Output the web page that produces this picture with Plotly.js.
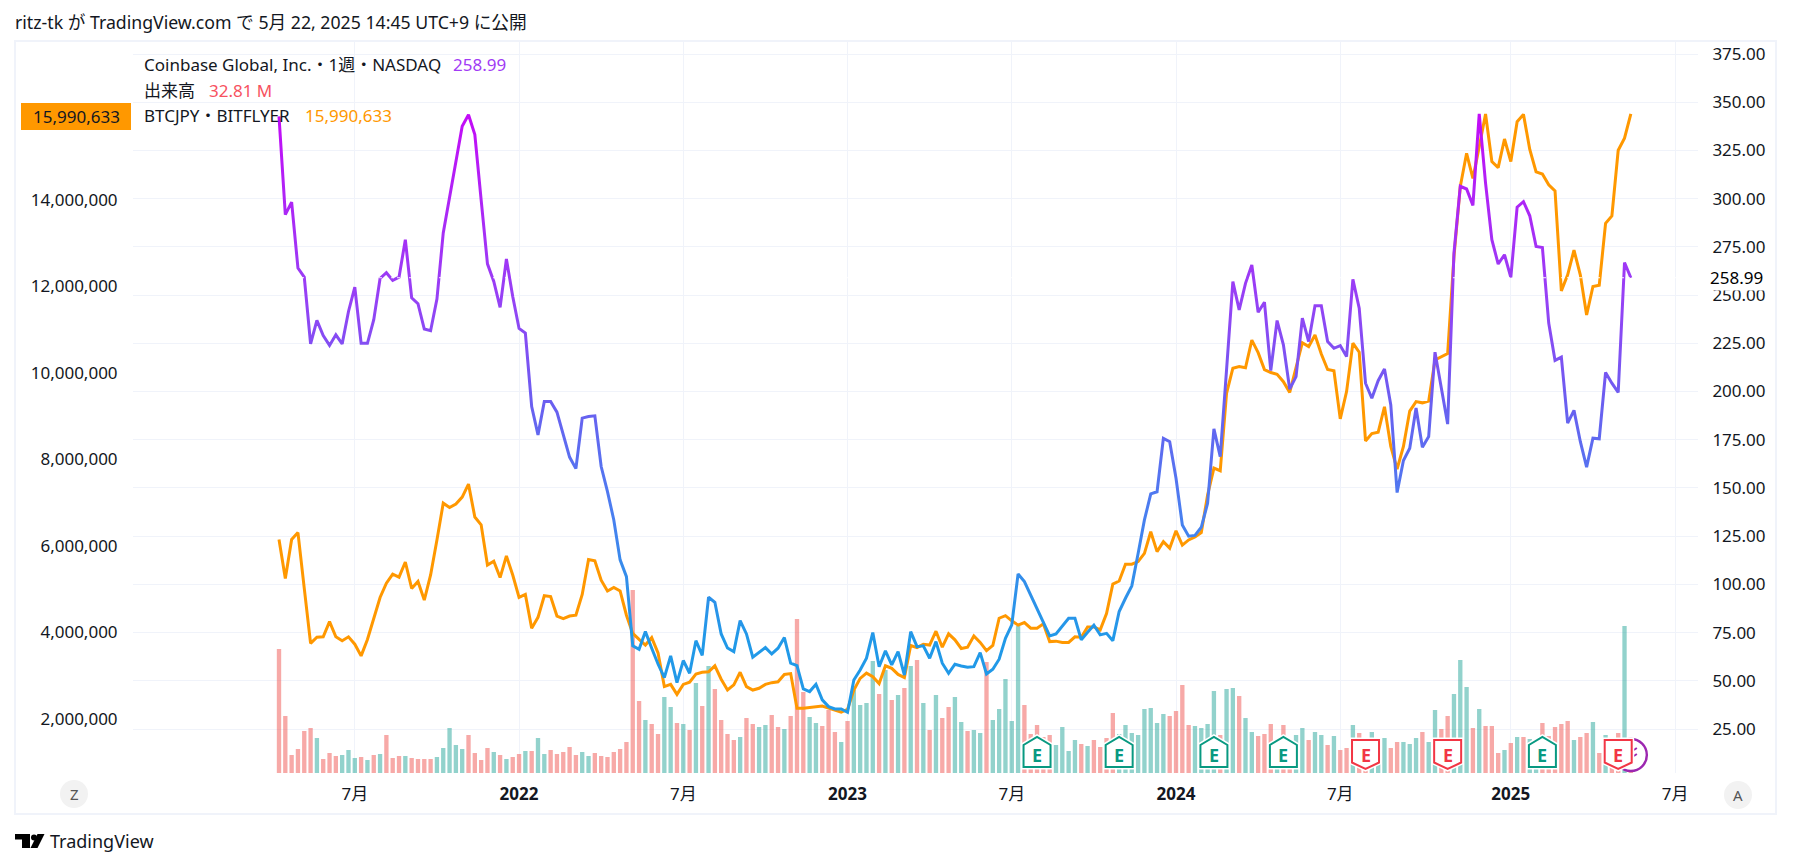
<!DOCTYPE html>
<html><head><meta charset="utf-8">
<script src="https://cdn.plot.ly/plotly-3.0.1.min.js"></script>
<style>html,body{margin:0;padding:0;background:#fff}#chart{width:1793px;height:868px}</style>
</head><body><div id="chart"></div>
<script>
// ---- data (weekly bars, first bar = week of 2021-04-12) ----
const coinClose = [342.7,291.7,298.2,264,259.3,224.7,236.9,229,223.9,229.4,
224.7,241.5,254.1,225,225,237.2,258.6,261.6,257.6,259.3,
278.7,248.6,245.5,232.4,231.5,247.9,282.2,301.2,318.5,337.5,
343.5,333.2,299.4,266.2,257.1,243.6,268.7,249.3,232.7,230.3,
192.2,177.5,194.8,194.8,189.3,177.5,166,160,186.2,187,
187.4,161.1,148.1,133.4,112.7,104,68.1,66.3,75.5,66.9,
58.7,51.6,62.9,49,60.5,53.9,70.8,63.2,93.3,90.7,
74.3,67,65.1,81.2,74.3,62.2,64.6,67.2,63.9,66.9,
72.4,59.1,57.9,45.8,44.4,48.2,40.1,36.6,35.4,35.4,
33.7,50.4,55.6,61.7,75,57.3,65.5,58.2,65.1,53,
75.5,67.7,68.1,61.7,70.3,59.1,53.9,58.6,57.7,57,
57.3,64.6,53.5,56,61.2,72,79,105.4,101.4,94.5,
86.7,79.8,73.3,74.3,78.1,82.4,82.4,71.2,75.2,78.8,
73.8,74.6,70.8,85.9,92.8,99.2,116,133.4,146.9,148,
175.7,174,155,130.8,125,125.4,129.6,142,180.6,166.2,
211.2,257,242.3,256.1,265.6,241.1,246.3,210.8,236.8,224.2,
201.2,207.7,238,225.9,244.5,244.5,225.9,222.4,223.8,218.1,
258.2,243.2,204.3,196.5,205.6,211.7,193,147.6,164.2,170.6,
191.4,171.1,176.7,220.4,201.8,183.1,271.8,306.4,305,296.5,
344,308.1,278.7,266.1,270.9,259.2,295.6,298.4,291.1,275.2,
274.7,235.5,216.1,217.8,183.6,190.2,174.1,160.8,175.8,175.5,
209.9,204.3,199.5,266.9,258.99];

const btcJpyMillions = [6.15,5.25,6.15,6.31,5.02,3.75,3.89,3.90,4.25,3.90,
3.81,3.90,3.73,3.46,3.84,4.33,4.81,5.14,5.35,5.28,
5.63,5.02,5.18,4.75,5.33,6.14,6.99,6.89,6.97,7.13,
7.43,6.67,6.49,5.56,5.65,5.27,5.77,5.33,4.81,4.88,
4.10,4.35,4.85,4.83,4.38,4.32,4.38,4.40,4.88,5.69,
5.66,5.21,4.96,5.04,4.96,4.40,3.98,3.84,3.71,3.88,
3.53,2.75,2.80,2.57,2.80,2.85,3.04,3.08,3.09,3.23,
2.92,2.67,2.79,3.08,2.75,2.67,2.71,2.80,2.84,2.86,
3.03,3.05,2.25,2.25,2.27,2.28,2.30,2.25,2.21,2.16,
2.22,2.67,2.94,3.06,2.98,2.82,3.23,3.17,3.03,2.96,
3.70,3.65,3.73,3.71,4.03,3.66,3.97,3.83,3.63,3.66,
3.92,3.77,3.58,3.70,4.33,4.39,4.27,4.17,4.23,4.10,
4.10,4.20,3.79,3.80,3.77,3.77,3.90,3.89,4.13,4.13,
4.06,4.44,5.12,5.19,5.58,5.58,5.64,5.83,6.33,5.87,
6.10,5.95,6.35,6.02,6.14,6.21,6.31,7.18,7.80,7.74,
9.53,10.11,10.15,10.12,10.76,10.47,10.08,10.01,9.97,9.80,
9.55,10.11,10.70,10.61,10.88,10.44,10.08,10.05,8.94,9.57,
10.69,10.48,8.43,8.60,8.63,9.22,8.30,7.78,8.30,9.12,
9.34,9.31,9.35,10.30,10.38,10.45,12.69,14.31,15.08,14.50,
15.23,15.99,14.89,14.75,15.41,14.89,15.81,15.98,15.17,14.65,
14.60,14.35,14.21,11.90,12.27,12.84,12.27,11.34,12.00,12.03,
13.46,13.63,15.15,15.43,15.990633];

const volumeM = [124,57,18,24,42,45,35,14,20,17,
18,23,15,16,13,18,19,38,15,17,
17,15,14,14,14,16,25,45,28,24,
38,20,13,25,21,18,14,16,19,22,
22,35,19,23,19,21,26,18,21,17,
20,17,16,21,24,31,183,72,53,49,
39,76,66,50,49,43,90,67,107,84,
53,39,33,36,55,49,46,48,58,46,
44,57,154,81,56,50,47,63,41,31,
52,83,68,70,112,79,103,73,78,85,
107,113,70,43,78,55,66,76,51,42,
43,40,111,53,64,94,52,147,68,39,
48,36,38,28,46,22,33,29,27,33,
26,35,60,39,48,40,38,64,65,50,
59,57,62,88,48,47,45,49,82,38,
84,85,77,55,41,37,39,49,30,48,
26,38,45,33,41,38,28,37,23,25,
48,40,35,41,26,35,25,31,31,29,
35,41,31,63,44,57,79,113,86,45,
64,47,47,20,23,30,36,36,34,30,
50,37,46,49,52,33,36,40,51,20,
38,26,40,147,32.81];

const greenWeeks = [6,10,11,12,14,16,20,25,26,27,28,29,34,36,39,41,42,48,49,58,61,62,64,66,68,73,76,77,80,84,85,89,91,92,93,94,96,98,100,102,104,107,108,110,111,113,114,115,116,117,123,124,125,126,128,133,134,135,136,137,138,139,140,145,146,147,148,150,151,153,154,158,161,162,164,165,167,170,173,174,175,178,179,180,182,183,186,187,188,190,194,196,198,199,205,208,210,213];

const earningsBeat = [120,133,148,159,200];
const earningsMiss = [172,185,212];
const xTickDates = ["2021-07-05","2022-01-03","2022-07-04","2023-01-02","2023-07-03","2024-01-01","2024-07-01","2025-01-06","2025-07-07"];
const xTickText = ["7月","<b>2022</b>","7月","<b>2023</b>","7月","<b>2024</b>","7月","<b>2025</b>","7月"];
const leftTicks = [2000000,4000000,6000000,8000000,10000000,12000000,14000000];
const rightTicks = [25,50,75,100,125,150,175,200,225,250,275,300,325,350,375];

// ---- geometry ----
const W=1793,H=868,L=133,R=1698,T=42,B=773;
const DAY=86400000, t0=Date.UTC(2021,3,12), PXW=6.317;
const iso=ms=>new Date(ms).toISOString().slice(0,19);
const weeks=coinClose.map((_,i)=>iso(t0+i*7*DAY));
const xAtPx=p=>iso(t0+(p-279)/PXW*7*DAY);
const fx=p=>(p-L)/(R-L), fy=p=>(B-p)/(B-T);
const FONT='"Noto Sans","Noto Sans CJK JP",sans-serif', INK='#131722';

// ---- traces ----
const volume={type:'bar',x:weeks,y:volumeM,yaxis:'y',width:4.9*DAY*0.98,
  marker:{color:volumeM.map((_,i)=>greenWeeks.includes(i)?'rgba(38,166,154,0.5)':'rgba(239,83,80,0.5)'),line:{width:0}},hoverinfo:'skip'};
const btc={type:'scatter',mode:'lines',x:weeks,y:btcJpyMillions.map(v=>Math.round(v*1e6)),yaxis:'y2',
  line:{color:'#ff9800',width:3},hoverinfo:'skip'};
const coin={type:'scatter',mode:'lines',x:weeks,y:coinClose,yaxis:'y3',
  line:{color:'#8f44f5',width:3},hoverinfo:'skip'};

// ---- shapes ----
const shapes=[];
shapes.push({type:'rect',xref:'paper',yref:'paper',x0:fx(15),x1:fx(1776),y0:fy(814),y1:fy(41),line:{color:'#f0f3fa',width:2},layer:'below'});
shapes.push({type:'line',xref:'paper',yref:'y3',x0:0,x1:1,y0:258.99,y1:258.99,line:{color:'rgba(255,255,255,0.9)',width:1,dash:'dot'},layer:'above'});
shapes.push({type:'rect',xref:'paper',yref:'paper',x0:fx(21),x1:fx(131),y0:fy(130),y1:fy(103),fillcolor:'#ff9800',line:{width:0},layer:'above'});
[[74,794],[1738,795]].forEach(c=>shapes.push({type:'circle',xref:'paper',yref:'paper',x0:fx(c[0]-14),x1:fx(c[0]+14),y0:fy(c[1]+14),y1:fy(c[1]-14),fillcolor:'#f2f2f2',line:{width:0},layer:'above'}));
const lastDate=weeks[weeks.length-1];
const pix=(x,y,path,fill,col,w)=>({type:'path',xref:'x',yref:'paper',xsizemode:'pixel',ysizemode:'pixel',xanchor:x,yanchor:y,path,fillcolor:fill,line:{color:col,width:w},layer:'above'});
shapes.push({type:'circle',xref:'x',yref:'paper',xsizemode:'pixel',ysizemode:'pixel',xanchor:lastDate,yanchor:fy(755),x0:-16,x1:16,y0:-16,y1:16,fillcolor:'#ffffff',line:{color:'#9c27b0',width:2.4},layer:'above'});
shapes.push(pix(lastDate,fy(755),'M3,5 L6,7 M3,-1 L6,1','rgba(0,0,0,0)','#9c27b0',2));
const HOUSE='M-13.5,1 L13.5,1 L13.5,23 L0,31 L-13.5,23 Z', SHIELD='M-13.5,29 L13.5,29 L13.5,6.5 L0,0 L-13.5,6.5 Z';
const annos=[];
const txt=(x,y,text,color,size,extra)=>annos.push(Object.assign({xref:'paper',yref:'paper',x:fx(x),y:fy(y),text,showarrow:false,xanchor:'left',yanchor:'middle',font:{family:FONT,size:size||17,color:color||INK},borderpad:0,borderwidth:0},extra||{}));
earningsBeat.forEach(w=>{
  shapes.push(pix(weeks[w],fy(768),HOUSE,'#ffffff','#ffffff',5));
  shapes.push(pix(weeks[w],fy(768),HOUSE,'#ffffff','#089981',2));
  annos.push({xref:'x',yref:'paper',x:weeks[w],y:fy(755),text:'<b>E</b>',showarrow:false,xanchor:'center',yanchor:'middle',font:{family:FONT,size:18,color:'#089981'}});
});
earningsMiss.forEach(w=>{
  shapes.push(pix(weeks[w],fy(769),SHIELD,'#ffffff','#ffffff',5));
  shapes.push(pix(weeks[w],fy(769),SHIELD,'#ffffff','#f23645',2));
  annos.push({xref:'x',yref:'paper',x:weeks[w],y:fy(755),text:'<b>E</b>',showarrow:false,xanchor:'center',yanchor:'middle',font:{family:FONT,size:18,color:'#f23645'}});
});
const poly=pts=>'M'+pts.map(p=>fx(p[0])+','+fy(p[1])).join(' L')+' Z';
shapes.push({type:'path',xref:'paper',yref:'paper',path:poly([[15,834],[30,834],[30,848],[22,848],[22,839.5],[15,839.5]]),fillcolor:'#000',line:{width:0}});
shapes.push({type:'circle',xref:'paper',yref:'paper',x0:fx(31),x1:fx(37),y0:fy(840.5),y1:fy(834.5),fillcolor:'#000',line:{width:0}});
shapes.push({type:'path',xref:'paper',yref:'paper',path:poly([[37.5,834],[44.5,834],[37.5,848],[30.5,848]]),fillcolor:'#000',line:{width:0}});

// ---- texts ----
txt(15,22,'ritz-tk が TradingView.com で 5月 22, 2025 14:45 UTC+9 に公開',INK,17.7);
txt(144,64,'Coinbase Global, Inc.・1週・NASDAQ',INK,17);
txt(453,64,'258.99','#a13bf5',17);
txt(144,90,'出来高',INK,17);
txt(209,90,'32.81 M','#f7525f',17);
txt(144,116,'BTCJPY・BITFLYER',INK,17);
txt(305,116,'15,990,633','#ff9800',17);
txt(76,116.5,'15,990,633',INK,17,{xanchor:'center'});
txt(74,794,'Z','#555',15,{xanchor:'center'});
txt(1738,795,'A','#555',15,{xanchor:'center'});
txt(50,841,'TradingView',INK,18);
annos.push({xref:'paper',yref:'y3',x:fx(1708),y:258.99,text:'258.99',showarrow:false,xanchor:'left',yanchor:'middle',bgcolor:'#ffffff',borderpad:1,font:{family:FONT,size:17,color:'#000'}});

const axisFont={family:FONT,size:17,color:INK};
const layout={
  width:W,height:H,autosize:false,showlegend:false,hovermode:false,dragmode:false,
  paper_bgcolor:'#fff',plot_bgcolor:'#fff',barmode:'overlay',
  margin:{l:L,r:W-R,t:T,b:H-B,pad:0},
  xaxis:{type:'date',range:[xAtPx(L),xAtPx(R)],tickmode:'array',tickvals:xTickDates,ticktext:xTickText,
    showgrid:true,gridcolor:'#f0f3fa',gridwidth:1,zeroline:false,showline:false,ticks:'outside',ticklen:6,tickcolor:'rgba(0,0,0,0)',tickfont:axisFont,tickangle:0},
  yaxis:{range:[0,B-T],visible:false,showgrid:false,zeroline:false,fixedrange:true},
  yaxis2:{overlaying:'y',side:'left',range:[(2-54/43.25)*1e6,(14+158/43.25)*1e6],tickmode:'array',tickvals:leftTicks,tickformat:',d',
    showgrid:false,zeroline:false,showline:false,ticks:'outside',ticklen:11,tickcolor:'rgba(0,0,0,0)',tickfont:axisFont},
  yaxis3:{overlaying:'y',side:'right',range:[25-44/1.9286,375+12/1.9286],tickmode:'array',tickvals:rightTicks,tickformat:'.2f',
    showgrid:true,gridcolor:'#f0f3fa',gridwidth:1,zeroline:false,showline:false,ticks:'outside',ticklen:10,tickcolor:'rgba(0,0,0,0)',tickfont:axisFont},
  shapes,annotations:annos
};
Plotly.newPlot('chart',[volume,btc,coin],layout,{staticPlot:true,displayModeBar:false}).then(gd=>{
  const svg=gd.querySelector('svg.main-svg');
  const NS='http://www.w3.org/2000/svg';
  let defs=svg.querySelector('defs');
  const g=document.createElementNS(NS,'linearGradient');
  g.setAttribute('id','coinGrad');g.setAttribute('gradientUnits','userSpaceOnUse');
  g.setAttribute('x1','0');g.setAttribute('x2','0');g.setAttribute('y1',String(115-T));g.setAttribute('y2',String(640-T));
  [[0,'#c30cf7'],[0.35,'#9641f5'],[0.55,'#6a5ff0'],[0.75,'#4b7df0'],[0.9,'#3090ea'],[1,'#2199e8']].forEach(s=>{
    const st=document.createElementNS(NS,'stop');st.setAttribute('offset',s[0]);st.setAttribute('stop-color',s[1]);g.appendChild(st);});
  defs.appendChild(g);
  const traces=gd.querySelectorAll('.scatterlayer .trace');
  const path=traces[traces.length-1].querySelector('path.js-line');
  if(path) path.style.stroke='url(#coinGrad)';
});
</script></body></html>
